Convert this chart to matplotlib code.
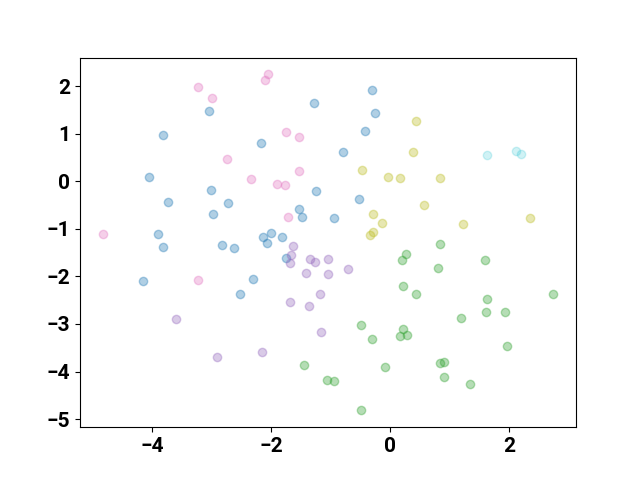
import matplotlib
matplotlib.use('Agg')
import matplotlib.pyplot as plt

plt.rcParams['font.family'] = ['Roboto', 'DejaVu Sans']
plt.rcParams['font.weight'] = 'bold'
plt.rcParams['font.size'] = 15

# Puntos por grupo
blue_x = [-3.05, -3.82, -4.06, -3.01, -3.74, -2.73, -2.98, -3.91, -3.82, -2.83,
          -2.63, -4.16, -2.53, -2.31, -2.18, -1.28, -0.31, -0.26, -0.43, -0.80,
          -1.25, -0.53, -1.53, -1.49, -0.95, -2.01, -2.14, -1.82, -2.07, -1.75]
blue_y = [1.48, 0.97, 0.08, -0.18, -0.44, -0.46, -0.69, -1.11, -1.39, -1.34,
          -1.40, -2.09, -2.38, -2.05, 0.80, 1.64, 1.91, 1.43, 1.06, 0.62,
          -0.20, -0.37, -0.58, -0.76, -0.78, -1.09, -1.18, -1.17, -1.30, -1.61]

pink_x = [-3.24, -2.99, -2.05, -2.11, -1.75, -1.54, -2.75, -1.53, -2.34, -1.90,
          -1.77, -1.71, -4.84, -3.23]
pink_y = [1.98, 1.76, 2.25, 2.13, 1.03, 0.94, 0.47, 0.21, 0.04, -0.06,
          -0.07, -0.76, -1.11, -2.07]

purple_x = [-1.64, -1.66, -1.68, -1.35, -1.26, -1.04, -0.70, -1.42, -1.04, -1.18,
            -1.68, -1.36, -1.16, -2.15, -3.61, -2.91]
purple_y = [-1.37, -1.56, -1.72, -1.63, -1.70, -1.64, -1.84, -1.92, -1.94, -2.38,
            -2.54, -2.63, -3.17, -3.59, -2.89, -3.70]

olive_x = [0.43, 0.39, -0.48, -0.04, 0.17, 0.84, 0.57, 1.22, 2.36, -0.28,
           -0.13, -0.29, -0.34]
olive_y = [1.27, 0.62, 0.24, 0.10, 0.06, 0.06, -0.49, -0.89, -0.77, -0.69,
           -0.87, -1.07, -1.13]

cyan_x = [1.63, 2.12, 2.21]
cyan_y = [0.55, 0.64, 0.57]

green_x = [0.84, 0.27, 0.20, 1.59, 0.80, 0.21, 0.43, 1.64, 2.74, 1.61,
           1.93, 1.20, -0.49, 0.21, 0.16, 0.28, -0.31, 1.96, -1.45, 0.84,
           0.90, -0.09, -1.06, -0.95, 0.90, 1.34, -0.49]
green_y = [-1.31, -1.53, -1.66, -1.65, -1.82, -2.21, -2.37, -2.47, -2.38, -2.74,
           -2.74, -2.88, -3.03, -3.10, -3.25, -3.23, -3.31, -3.47, -3.86, -3.82,
           -3.79, -3.91, -4.17, -4.20, -4.12, -4.27, -4.81]

groups = [
    (blue_x, blue_y, 'tab:blue', 0.35),
    (pink_x, pink_y, 'tab:pink', 0.35),
    (purple_x, purple_y, 'tab:purple', 0.35),
    (olive_x, olive_y, 'tab:olive', 0.35),
    (cyan_x, cyan_y, 'tab:cyan', 0.2),
    (green_x, green_y, 'tab:green', 0.35),
]

fig, ax = plt.subplots(figsize=(6.4, 4.8), dpi=100)
for gx, gy, c, a in groups:
    ax.scatter(gx, gy, color=c, alpha=a)

ax.set_xlim(-5.22, 3.13)
ax.set_ylim(-5.17, 2.60)
ax.set_xticks([-4, -2, 0, 2])
ax.set_yticks([-5, -4, -3, -2, -1, 0, 1, 2])

plt.savefig('out.png', dpi=100)
